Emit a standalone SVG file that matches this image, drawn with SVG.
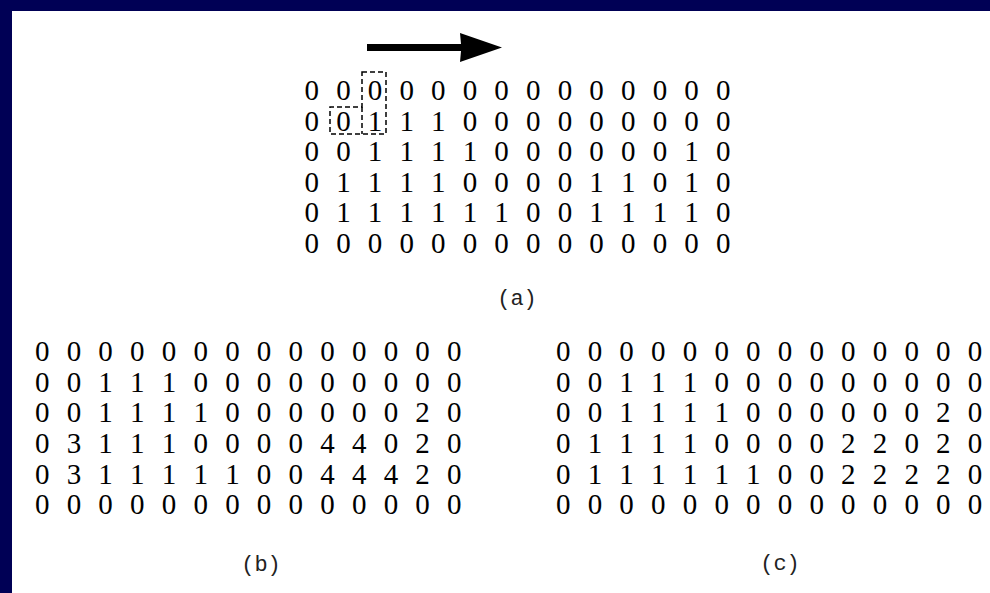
<svg xmlns="http://www.w3.org/2000/svg" width="990" height="593" viewBox="0 0 990 593">
<style>
.d{font-family:"Liberation Serif","Times New Roman",serif;font-size:29px;fill:#000;text-anchor:middle}
.lab{font-family:"Liberation Mono","Courier New",monospace;font-size:22px;fill:#222;text-anchor:middle}
.dash{fill:none;stroke:#000;stroke-width:1.5;stroke-dasharray:5 3}
</style>
<rect x="0" y="0" width="990" height="593" fill="#ffffff"/>
<rect x="0" y="0" width="990" height="11" fill="#000055"/>
<rect x="0" y="0" width="12" height="593" fill="#000055"/>
<g id="panel-a">
<text class="d" x="311.7 343.4 375.0 406.7 438.3 470.0 501.6 533.3 564.9 596.6 628.2 659.9 691.5 723.2" y="100">00000000000000</text>
<text class="d" x="311.7 343.4 375.0 406.7 438.3 470.0 501.6 533.3 564.9 596.6 628.2 659.9 691.5 723.2" y="130.5">00111000000000</text>
<text class="d" x="311.7 343.4 375.0 406.7 438.3 470.0 501.6 533.3 564.9 596.6 628.2 659.9 691.5 723.2" y="161">00111100000010</text>
<text class="d" x="311.7 343.4 375.0 406.7 438.3 470.0 501.6 533.3 564.9 596.6 628.2 659.9 691.5 723.2" y="191.5">01111000011010</text>
<text class="d" x="311.7 343.4 375.0 406.7 438.3 470.0 501.6 533.3 564.9 596.6 628.2 659.9 691.5 723.2" y="222">01111110011110</text>
<text class="d" x="311.7 343.4 375.0 406.7 438.3 470.0 501.6 533.3 564.9 596.6 628.2 659.9 691.5 723.2" y="252.5">00000000000000</text>
<text class="lab" x="517" y="305">(a)</text>
</g>
<g id="scan-mask">
<path class="dash" d="M362,72 H386 V134 H330 V107 H362 Z"/>
<path class="dash" d="M362,107 V134"/>
</g>
<g id="connectors">
<polygon points="367,44 461,44 460,33 502,47.5 460,62 461,51 367,51" fill="#000"/>
</g>
<g id="panel-b">
<text class="d" x="42.2 73.9 105.6 137.3 169.0 200.7 232.4 264.1 295.8 327.5 359.2 390.9 422.6 454.3" y="361">00000000000000</text>
<text class="d" x="42.2 73.9 105.6 137.3 169.0 200.7 232.4 264.1 295.8 327.5 359.2 390.9 422.6 454.3" y="391.7">00111000000000</text>
<text class="d" x="42.2 73.9 105.6 137.3 169.0 200.7 232.4 264.1 295.8 327.5 359.2 390.9 422.6 454.3" y="422.4">00111100000020</text>
<text class="d" x="42.2 73.9 105.6 137.3 169.0 200.7 232.4 264.1 295.8 327.5 359.2 390.9 422.6 454.3" y="453">03111000044020</text>
<text class="d" x="42.2 73.9 105.6 137.3 169.0 200.7 232.4 264.1 295.8 327.5 359.2 390.9 422.6 454.3" y="483.7">03111110044420</text>
<text class="d" x="42.2 73.9 105.6 137.3 169.0 200.7 232.4 264.1 295.8 327.5 359.2 390.9 422.6 454.3" y="514.4">00000000000000</text>
<text class="lab" x="261" y="571">(b)</text>
</g>
<g id="panel-c">
<text class="d" x="563.3 595.0 626.6 658.3 690.0 721.7 753.3 785.0 816.7 848.3 880.0 911.7 943.3 975.0" y="361">00000000000000</text>
<text class="d" x="563.3 595.0 626.6 658.3 690.0 721.7 753.3 785.0 816.7 848.3 880.0 911.7 943.3 975.0" y="391.7">00111000000000</text>
<text class="d" x="563.3 595.0 626.6 658.3 690.0 721.7 753.3 785.0 816.7 848.3 880.0 911.7 943.3 975.0" y="422.4">00111100000020</text>
<text class="d" x="563.3 595.0 626.6 658.3 690.0 721.7 753.3 785.0 816.7 848.3 880.0 911.7 943.3 975.0" y="453">01111000022020</text>
<text class="d" x="563.3 595.0 626.6 658.3 690.0 721.7 753.3 785.0 816.7 848.3 880.0 911.7 943.3 975.0" y="483.7">01111110022220</text>
<text class="d" x="563.3 595.0 626.6 658.3 690.0 721.7 753.3 785.0 816.7 848.3 880.0 911.7 943.3 975.0" y="514.4">00000000000000</text>
<text class="lab" x="780" y="570">(c)</text>
</g>
</svg>
